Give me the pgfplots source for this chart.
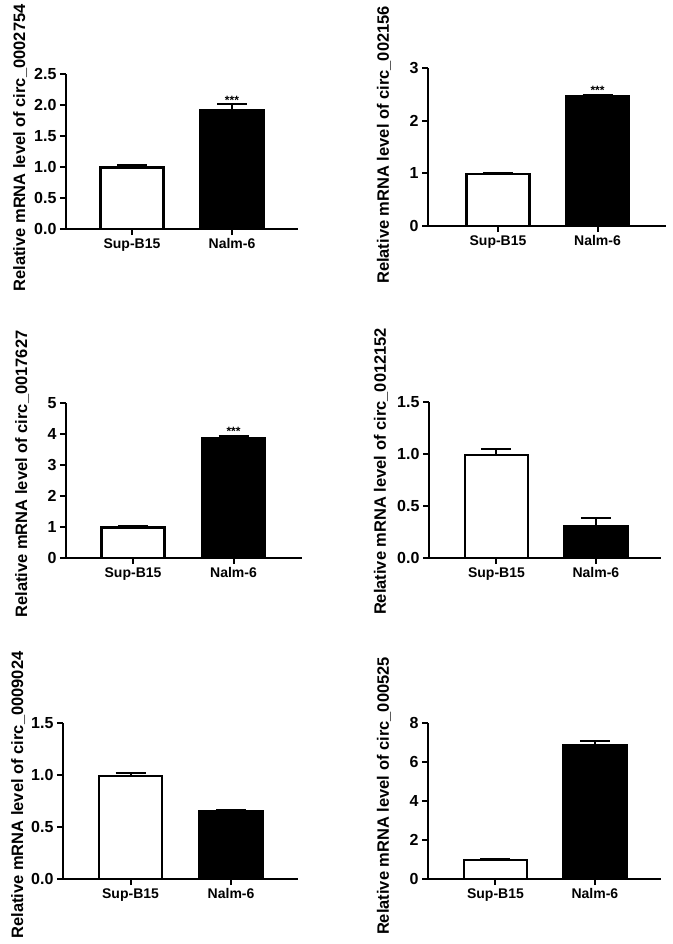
\documentclass[border=0pt]{standalone}
\usepackage{fontspec}
\setmainfont{Liberation Sans}
\usepackage{pgfplots}
\pgfplotsset{compat=1.18}

\pgfplotsset{
  prism/.style={
    scale only axis, axis lines*=left,
    axis line style={line width=2pt},
    every tick/.style={line width=2pt, black},
    major tick length=6pt, tick align=outside,
    xtick={1,2}, xticklabels={Sup-B15,Nalm-6},
    ymin=0, clip=false, anchor=south west,
    /pgf/number format/assume math mode=true,
    yticklabel style={font=\fontsize{16}{18}\selectfont\bfseries},
    xticklabel style={font=\fontsize{14}{16}\selectfont\bfseries},
    every axis y label/.style={rotate=90, anchor=center, font=\fontsize{16.5}{18}\selectfont\bfseries},
  },
  onedec/.style={yticklabel style={/pgf/number format/.cd, fixed, fixed zerofill, precision=1}},
  wbar/.style={ybar, bar width=63pt, bar shift=0pt, fill=white, draw=black, line width=2.5pt,
    error bars/.cd, y dir=plus, y explicit, error mark=|, error bar style={line width=2pt, black},
    error mark options={line width=2pt, mark size=15pt, black}},
  bbar/.style={ybar, bar width=63pt, bar shift=0pt, fill=black, draw=black, line width=2.5pt,
    error bars/.cd, y dir=plus, y explicit, error mark=|, error bar style={line width=2pt, black},
    error mark options={line width=2pt, mark size=15pt, black}},
}
\newcommand{\stars}{\fontsize{12}{12}\selectfont\bfseries ***}

\begin{document}
\begin{tikzpicture}
\path[use as bounding box] (0pt,0pt) rectangle (672pt,-944pt);

% Panel 1
\begin{axis}[prism, onedec, at={(66pt,-229pt)}, width=232pt, height=155pt,
  xmin=0.34, xmax=2.66, ymax=2.5, ytick={0,0.5,1,1.5,2,2.5},
  ylabel={Relative mRNA level of circ\_0002754},
  ylabel style={at={(axis description cs:-0.198,0.523)}}]
\addplot[wbar] coordinates {(1,0.99) +- (0,0.035)};
\addplot[bbar] coordinates {(2,1.92) +- (0,0.09)};
\node[anchor=base] at (axis cs:2,2.01) {\stars};
\end{axis}

% Panel 2
\begin{axis}[prism, at={(428pt,-226pt)}, width=238pt, height=158pt,
  xmin=0.2965, xmax=2.688, ymax=3, ytick={0,1,2,3},
  ylabel={Relative mRNA level of circ\_002156},
  ylabel style={at={(axis description cs:-0.185,0.513)}}]
\addplot[wbar] coordinates {(1,0.99) +- (0,0.02)};
\addplot[bbar] coordinates {(2,2.47) +- (0,0.02)};
\node[anchor=base] at (axis cs:2,2.49) {\stars};
\end{axis}

% Panel 3
\begin{axis}[prism, at={(66pt,-558pt)}, width=236pt, height=155pt,
  xmin=0.333, xmax=2.681, ymax=5, ytick={0,1,2,3,4,5},
  ylabel={Relative mRNA level of circ\_0017627},
  ylabel style={at={(axis description cs:-0.186,0.542)}}]
\addplot[wbar] coordinates {(1,0.98) +- (0,0.05)};
\addplot[bbar] coordinates {(2,3.85) +- (0,0.1)};
\node[anchor=base] at (axis cs:2,3.95) {\stars};
\end{axis}

% Panel 4
\begin{axis}[prism, onedec, at={(429pt,-558pt)}, width=232pt, height=156pt,
  xmin=0.322, xmax=2.654, ymax=1.5, ytick={0,0.5,1,1.5},
  ylabel={Relative mRNA level of circ\_0012152},
  ylabel style={at={(axis description cs:-0.207,0.555)}}]
\addplot[wbar] coordinates {(1,0.99) +- (0,0.055)};
\addplot[bbar] coordinates {(2,0.31) +- (0,0.07)};
\end{axis}

% Panel 5
\begin{axis}[prism, onedec, at={(63pt,-879pt)}, width=235pt, height=156pt,
  xmin=0.328, xmax=2.666, ymax=1.5, ytick={0,0.5,1,1.5},
  ylabel={Relative mRNA level of circ\_0009024},
  ylabel style={at={(axis description cs:-0.191,0.538)}}]
\addplot[wbar] coordinates {(1,0.99) +- (0,0.025)};
\addplot[bbar] coordinates {(2,0.655) +- (0,0.013)};
\end{axis}

% Panel 6
\begin{axis}[prism, at={(428pt,-879pt)}, width=233pt, height=156pt,
  xmin=0.322, xmax=2.664, ymax=8, ytick={0,2,4,6,8},
  ylabel={Relative mRNA level of circ\_000525},
  ylabel style={at={(axis description cs:-0.189,0.532)}}]
\addplot[wbar] coordinates {(1,0.98) +- (0,0.07)};
\addplot[bbar] coordinates {(2,6.88) +- (0,0.18)};
\end{axis}
\end{tikzpicture}
\end{document}
